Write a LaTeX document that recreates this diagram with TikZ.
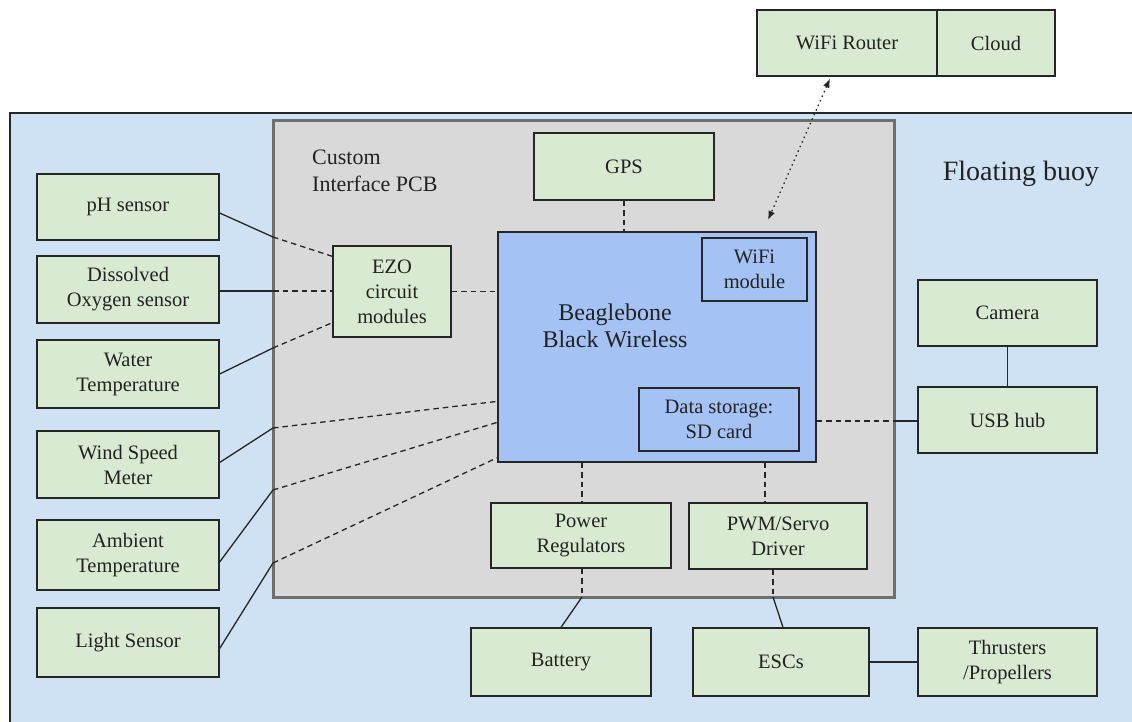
\documentclass[tikz,border=0pt]{standalone}
\usepackage{fontspec}
\setmainfont{Liberation Serif}
\usetikzlibrary{arrows.meta}
\definecolor{buoyblue}{HTML}{CFE2F3}
\definecolor{partgreen}{HTML}{D9EAD3}
\definecolor{pcbgray}{HTML}{D9D9D9}
\definecolor{pcbline}{HTML}{6E6E6E}
\definecolor{boardblue}{HTML}{A4C2F4}
\definecolor{ink}{HTML}{222222}
\begin{document}
\begin{tikzpicture}[x=1pt,y=-1pt]
        \tikzstyle{part}=[rectangle,draw=black!85,line width=1.3pt,fill=partgreen,text=ink,align=center,inner sep=0pt,font=\fontsize{20.5}{25}\selectfont]
        \tikzstyle{board}=[part,fill=boardblue]
        \tikzstyle{wire}=[draw=black!85,line width=1.3pt]
        \tikzstyle{link}=[wire,dash pattern=on 5.5pt off 4pt]
        \tikzstyle{radio}=[wire,dash pattern=on 1.5pt off 3.5pt,{Latex[length=9pt,width=7pt]}-{Latex[length=9pt,width=7pt]}]
        \clip (0,0) rectangle (1132,722);
        % buoy and interface board
        \fill[white] (0,0) rectangle (1132,722);
        \draw[fill=buoyblue,draw=black!85,line width=1.3pt] (10,113) rectangle (1145,735);
        \draw[fill=pcbgray,draw=pcbline,line width=3pt] (273,121) rectangle (894,597);
        \node[text=ink,font=\fontsize{28}{32}\selectfont] (title) at (1021,174) {Floating buoy};
        \node[text=ink,anchor=north west,align=left,inner sep=0pt,font=\fontsize{22}{27}\selectfont] (pcbname) at (312,150) {Custom\\Interface PCB};
        % sensors
        \node [part,minimum width=182,minimum height=66] (ph) at (128,207) {pH sensor};
        \node [part,minimum width=182,minimum height=67] (do) at (128,289.5) {Dissolved\\Oxygen sensor};
        \node [part,minimum width=182,minimum height=68] (wt) at (128,374) {Water\\Temperature};
        \node [part,minimum width=182,minimum height=67] (ws) at (128,464.5) {Wind Speed\\Meter};
        \node [part,minimum width=182,minimum height=70] (at) at (128,555) {Ambient\\Temperature};
        \node [part,minimum width=182,minimum height=69] (ls) at (128,642.5) {Light Sensor};
        % board parts
        \node [part,minimum width=118,minimum height=91] (ezo) at (392,291.5) {EZO\\circuit\\modules};
        \node [part,minimum width=180,minimum height=67] (gps) at (624,166.5) {GPS};
        \node [board,minimum width=318,minimum height=230] (bb) at (657,347) {};
        \node [text=ink,align=center,font=\fontsize{24}{27}\selectfont] (bbname) at (615,326) {Beaglebone\\Black Wireless};
        \node [board,minimum width=105,minimum height=63] (wifi) at (754.5,269.5) {WiFi\\module};
        \node [board,minimum width=160,minimum height=63] (sd) at (719,419.5) {Data storage:\\SD card};
        \node [part,minimum width=180,minimum height=65] (pwr) at (581,535.5) {Power\\Regulators};
        \node [part,minimum width=178,minimum height=66] (pwm) at (778,536) {PWM/Servo\\Driver};
        % outside parts
        \node [part,minimum width=180,minimum height=68] (bat) at (561,662) {Battery};
        \node [part,minimum width=176,minimum height=68] (esc) at (781,662) {ESCs};
        \node [part,minimum width=179,minimum height=68] (thr) at (1007.5,662) {Thrusters\\/Propellers};
        \node [part,minimum width=179,minimum height=66] (cam) at (1007.5,313) {Camera};
        \node [part,minimum width=179,minimum height=66] (usb) at (1007.5,420) {USB hub};
        \node [part,minimum width=180,minimum height=66] (router) at (847,43) {WiFi Router};
        \node [part,minimum width=118,minimum height=66] (cloud) at (996,43) {Cloud};
        % where wires enter the board
        \coordinate (phin) at (273,237);
        \coordinate (doin) at (273,291);
        \coordinate (wtin) at (273,348);
        \coordinate (wsin) at (273,428);
        \coordinate (atin) at (273,490);
        \coordinate (lsin) at (273,563);
        \coordinate (batout) at (582,597);
        \coordinate (escout) at (773,597);
        \coordinate (usbin) at (894,421);
        \coordinate (wifiair) at (768,220);
        % connections
        \draw[wire] ([yshift=-6pt]ph.east) -- (phin);
        \draw[link] (phin) -- ([yshift=-11pt]ezo.north west);
        \draw[wire] ([yshift=-1.5pt]do.east) -- (doin);
        \draw[link] (doin) -- (doin -| ezo.west);
        \draw[wire] (wt.east) -- (wtin);
        \draw[link] (wtin) -- ([yshift=15pt]ezo.south west);
        \draw[link] (ezo.east) -- (ezo.east -| bb.west);
        \draw[wire] ([yshift=2pt]ws.east) -- (wsin);
        \draw[link] (wsin) -- ([yshift=-170pt]bb.north west);
        \draw[wire] ([yshift=-7pt]at.east) -- (atin);
        \draw[link] (atin) -- ([yshift=-191pt]bb.north west);
        \draw[wire] ([yshift=-6pt]ls.east) -- (lsin);
        \draw[link] (lsin) -- ([yshift=5pt]bb.south west);
        \draw[link] (gps.south) -- (gps.south |- bb.north);
        \draw[link] ([xshift=-75pt]bb.south) -- ([xshift=-75pt]bb.south |- pwr.north);
        \draw[link] ([xshift=108pt]bb.south) -- ([xshift=108pt]bb.south |- pwm.north);
        \draw[link] ([xshift=1pt]pwr.south) -- (batout);
        \draw[wire] (batout) -- (bat.north);
        \draw[link] ([xshift=-5pt]pwm.south) -- (escout);
        \draw[wire] (escout) -- ([xshift=2pt]esc.north);
        \draw[wire] (esc.east) -- (thr.west);
        \draw[wire] (cam.south) -- (usb.north);
        \draw[link] (usbin -| bb.east) -- (usbin);
        \draw[wire] (usbin) -- (usbin -| usb.west);
        \draw[radio] ([xshift=-17pt,yshift=-2pt]router.south) -- (wifiair);
\end{tikzpicture}
\end{document}
